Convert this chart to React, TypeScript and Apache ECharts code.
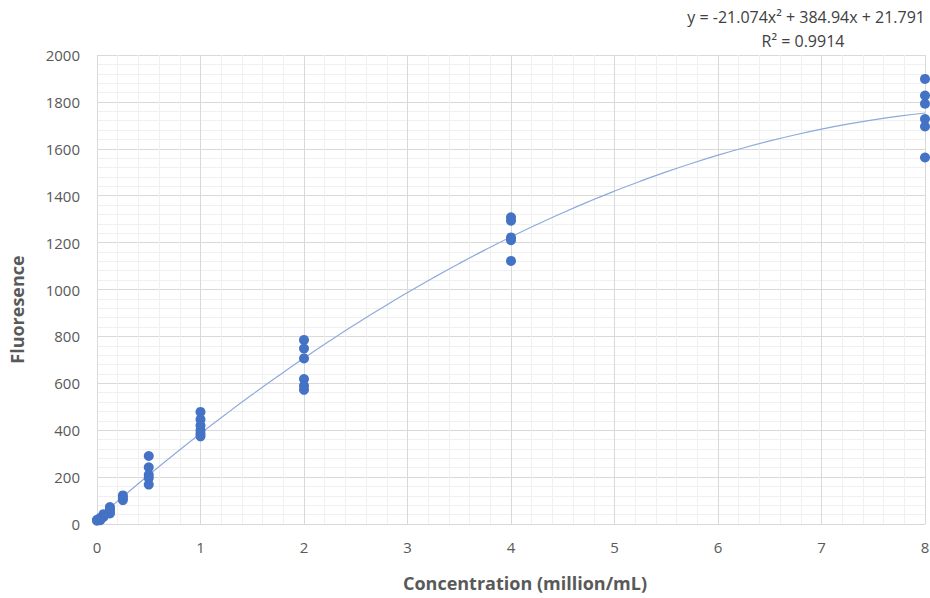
import React, { useEffect, useRef } from "react";
import * as echarts from "echarts";

const concentrations = [8, 8, 8, 8, 8, 8, 4, 4, 4, 4, 4, 2, 2, 2, 2, 2, 2, 1, 1, 1, 1, 1, 1, 0.5, 0.5, 0.5, 0.5, 0.5, 0.25, 0.25, 0.25, 0.125, 0.125, 0.125, 0.125, 0.0625, 0.0625, 0.0625, 0.03125, 0.03125, 0.03125, 0, 0];
const fluorescence = [1898, 1827, 1792, 1727, 1695, 1563, 1308, 1293, 1222, 1210, 1122, 785, 748, 706, 618, 590, 572, 478, 446, 420, 400, 385, 374, 290, 242, 210, 196, 168, 122, 112, 102, 72, 62, 52, 45, 42, 36, 30, 26, 20, 16, 18, 14];

const trendA = -21.074;
const trendB = 384.94;
const trendC = 21.791;
const trendXs = [0, 0.25, 0.5, 0.75, 1, 1.25, 1.5, 1.75, 2, 2.25, 2.5, 2.75, 3, 3.25, 3.5, 3.75, 4, 4.25, 4.5, 4.75, 5, 5.25, 5.5, 5.75, 6, 6.25, 6.5, 6.75, 7, 7.25, 7.5, 7.75, 8];

const equationLine1 = "y = -21.074x² + 384.94x + 21.791";
const equationLine2 = "R² = 0.9914";

export default function App() {
  const ref = useRef<HTMLDivElement>(null);
  useEffect(() => {
    if (!ref.current) return;
    const chart = echarts.init(ref.current, undefined, { renderer: "svg" });
    const points = concentrations.map((x, i) => [x, fluorescence[i]]);
    const trend = trendXs.map((x) => [x, trendA * x * x + trendB * x + trendC]);
    const font = "'Open Sans', 'Liberation Sans', sans-serif";
    chart.setOption({
      animation: false,
      backgroundColor: "#ffffff",
      grid: { left: 97, right: 5, top: 55, bottom: 74, containLabel: false, outerBoundsMode: "none" },
      graphic: [
        {
          type: "text",
          x: 925,
          y: 17,
          style: {
            text: equationLine1,
            align: "right",
            verticalAlign: "middle",
            font: "16px " + font,
            fill: "#404040",
          },
        },
        {
          type: "text",
          x: 803,
          y: 41,
          style: {
            text: equationLine2,
            align: "center",
            verticalAlign: "middle",
            font: "16px " + font,
            fill: "#404040",
          },
        },
      ],
      xAxis: {
        type: "value",
        min: 0,
        max: 8,
        interval: 1,
        name: "Concentration (million/mL)",
        nameLocation: "middle",
        nameGap: 50,
        nameTextStyle: { fontFamily: font, fontSize: 18, fontWeight: "bold", color: "#595959", padding: [0, 0, 0, 28] },
        axisLine: { show: true, lineStyle: { color: "#d9d9d9", width: 1 } },
        axisTick: { show: false },
        axisLabel: { fontFamily: font, fontSize: 15, color: "#595959", margin: 15 },
        splitLine: { show: true, lineStyle: { color: "#d9d9d9", width: 1 } },
        minorTick: { show: false, splitNumber: 5 },
        minorSplitLine: { show: true, lineStyle: { color: "#f0f0f0", width: 1 } },
      },
      yAxis: {
        type: "value",
        min: 0,
        max: 2000,
        interval: 200,
        name: "Fluoresence",
        nameLocation: "middle",
        nameGap: 71,
        nameTextStyle: { fontFamily: font, fontSize: 18, fontWeight: "bold", color: "#595959", padding: [0, 40, 0, 0] },
        axisLine: { show: false },
        axisTick: { show: false },
        axisLabel: { fontFamily: font, fontSize: 15, color: "#595959", margin: 17, formatter: (v: number) => String(v) },
        splitLine: { show: true, lineStyle: { color: "#d9d9d9", width: 1 } },
        minorTick: { show: false, splitNumber: 5 },
        minorSplitLine: { show: true, lineStyle: { color: "#f0f0f0", width: 1 } },
      },
      series: [
        {
          type: "line",
          data: trend,
          smooth: true,
          showSymbol: false,
          symbol: "none",
          lineStyle: { color: "#8eaadb", width: 1.2 },
          z: 2,
        },
        {
          type: "scatter",
          data: points,
          symbol: "circle",
          symbolSize: 10,
          itemStyle: { color: "#4472c4", opacity: 1 },
          z: 3,
        },
      ],
    });
    return () => chart.dispose();
  }, []);
  return <div ref={ref} style={{ width: 930, height: 598, position: "absolute", left: 0, top: 0 }} />;
}
